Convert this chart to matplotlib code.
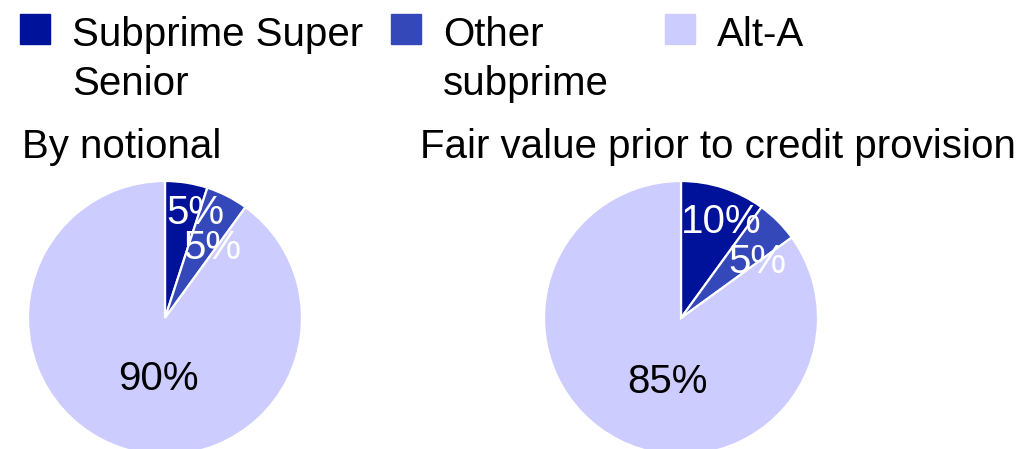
import numpy as np
import matplotlib.pyplot as plt
from matplotlib.patches import Rectangle

plt.rcParams['font.family'] = ['Liberation Sans', 'DejaVu Sans']

categories = ['Subprime Super\nSenior', 'Other\nsubprime', 'Alt-A']
colors = ['#00129A', '#3448BA', '#CCCCFF']
titles = ['By notional', 'Fair value prior to credit provision']
notional = [5, 5, 90]
fair_value = [10, 5, 85]

# label placement tweaks (radius fraction, angle shift in degrees)
label_dist = [[0.80, 0.62, 0.45], [0.76, 0.69, 0.48]]
label_shift = [[-7, -7, 12], [-5, -9, 15]]
label_color = ['white', 'white', 'black']

W, H = 1018, 449
fig = plt.figure(figsize=(W / 100, H / 100), dpi=100)
fs = 29

# legend, drawn by hand, one text per line
leg_x = [20, 391, 665]
for x, lab, c in zip(leg_x, categories, colors):
    fig.patches.append(Rectangle((x / W, 1 - 44 / H), 30 / W, 30 / H,
                                 transform=fig.transFigure, color=c))
    for k, line in enumerate(lab.split('\n')):
        base = 46 + k * 49
        fig.text((x + 52) / W, 1 - base / H, line, fontsize=fs,
                 va='baseline', ha='left')

centers = [165, 681]
title_x = [22, 420]
r_px = 137
for i, vals in enumerate([notional, fair_value]):
    cx = centers[i]
    ax = fig.add_axes([(cx - r_px) / W, (H - 318 - r_px) / H,
                       2 * r_px / W, 2 * r_px / H])
    wedges, _ = ax.pie(vals, colors=colors, startangle=90, counterclock=False,
                       wedgeprops=dict(edgecolor='white', linewidth=1.6))
    ax.set_xlim(-1, 1)
    ax.set_ylim(-1, 1)
    ax.set_aspect('equal')
    ax.axis('off')
    for j, w in enumerate(wedges):
        mid = np.deg2rad((w.theta1 + w.theta2) / 2 + label_shift[i][j])
        d = label_dist[i][j]
        ax.text(d * np.cos(mid), d * np.sin(mid), f'{vals[j]}%', fontsize=fs,
                color=label_color[j], ha='center', va='center')
    fig.text(title_x[i] / W, 1 - 158 / H, titles[i], fontsize=fs,
             va='baseline', ha='left')

fig.savefig('out.png', dpi=100)
